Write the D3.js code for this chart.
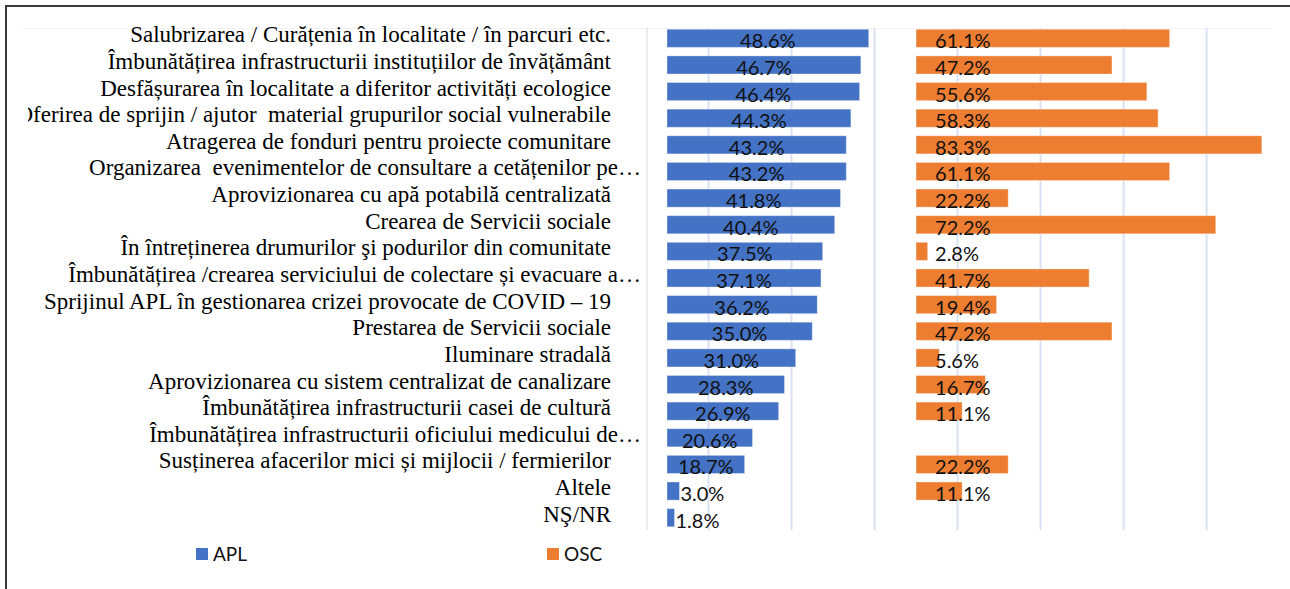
<!DOCTYPE html>
<html lang="ro">
<head>
  <meta charset="utf-8">
  <title>APL / OSC</title>
  <style>
  html, body {padding: 0; margin: 0; overflow: hidden; background: #fff}
  </style>
</head>
<body>
  <svg></svg>
  <script src="https://cdn.jsdelivr.net/npm/d3@7"></script>
  <script>

  var categories = [
    "Salubrizarea / Curățenia în localitate / în parcuri etc.",
    "Îmbunătățirea infrastructurii instituțiilor de învățământ",
    "Desfășurarea în localitate a diferitor activități ecologice",
    "Oferirea de sprijin / ajutor  material grupurilor social vulnerabile",
    "Atragerea de fonduri pentru proiecte comunitare",
    "Organizarea  evenimentelor de consultare a cetățenilor pe…",
    "Aprovizionarea cu apă potabilă centralizată",
    "Crearea de Servicii sociale",
    "În întreținerea drumurilor şi podurilor din comunitate",
    "Îmbunătățirea /crearea serviciului de colectare și evacuare a…",
    "Sprijinul APL în gestionarea crizei provocate de COVID – 19",
    "Prestarea de Servicii sociale",
    "Iluminare stradală",
    "Aprovizionarea cu sistem centralizat de canalizare",
    "Îmbunătățirea infrastructurii casei de cultură",
    "Îmbunătățirea infrastructurii oficiului medicului de…",
    "Susținerea afacerilor mici și mijlocii / fermierilor",
    "Altele",
    "NŞ/NR"
  ];

  var apl = [48.6, 46.7, 46.4, 44.3, 43.2, 43.2, 41.8, 40.4, 37.5, 37.1, 36.2, 35.0, 31.0, 28.3, 26.9, 20.6, 18.7, 3.0, 1.8];
  var osc = [61.1, 47.2, 55.6, 58.3, 83.3, 61.1, 22.2, 72.2, 2.8, 41.7, 19.4, 47.2, 5.6, 16.7, 11.1, null, 22.2, 11.1, null];

  var seriesNames = ["APL", "OSC"];
  var seriesColors = ["#4472c4", "#ed7d31"];

  // the two panels share one axis, OSC is shifted right by 60 points
  var panelOffset = [0, 60];
  var gridTicks = [10, 30, 50, 70, 90, 110, 130];

  var width = 1290, height = 589;

  var svg = d3.select("svg")
      .attr("width", width)
      .attr("height", height);

  // outer frame (left and top edges only are visible)
  svg.append("path")
      .attr("d", "M6,589V6H1290")
      .attr("fill", "none")
      .attr("stroke", "#3a3a3a")
      .attr("stroke-width", 2);

  var x = d3.scaleLinear()
      .domain([0, 146])
      .range([667, 1273]);

  var y = d3.scaleBand()
      .domain(categories)
      .range([25, 531])
      .paddingInner(0.32)
      .paddingOuter(0.16);

  // plot area top edge
  svg.append("line")
      .attr("x1", 22).attr("x2", x.range()[1])
      .attr("y1", 28.5).attr("y2", 28.5)
      .attr("stroke", "#f4f4f4");

  // gridlines
  svg.append("g")
    .selectAll("line")
    .data(gridTicks)
    .join("line")
      .attr("x1", d => x(d)).attr("x2", d => x(d))
      .attr("y1", 28).attr("y2", 530)
      .attr("stroke", "#d9e1f2")
      .attr("stroke-width", 2);

  // category axis line
  svg.append("line")
      .attr("x1", 647).attr("x2", 647)
      .attr("y1", 28).attr("y2", 530)
      .attr("stroke", "#d9d9d9")
      .attr("stroke-width", 1);

  // category labels
  svg.append("clipPath")
      .attr("id", "labelclip")
    .append("rect")
      .attr("x", 28).attr("y", 0)
      .attr("width", 640).attr("height", height);

  svg.append("g")
      .attr("clip-path", "url(#labelclip)")
    .selectAll("text")
    .data(categories)
    .join("text")
      .attr("x", 611)
      .attr("dx", d => d.endsWith("…") ? 30 : 0)
      .attr("y", d => y(d) + y.bandwidth() / 2 + 4)
      .attr("text-anchor", "end")
      .style("font-family", "'Liberation Serif', 'Times New Roman', serif")
      .style("font-size", "23px")
      .style("white-space", "pre")
      .attr("fill", "#000")
      .text(d => d);

  var series = [apl, osc];

  series.forEach(function(values, s) {
    var rows = values.map((v, i) => ({cat: categories[i], value: v}))
        .filter(d => d.value != null);
    var x0 = x(panelOffset[s]);

    svg.append("g")
      .selectAll("rect")
      .data(rows)
      .join("rect")
        .attr("x", x0)
        .attr("y", d => y(d.cat))
        .attr("width", d => x(panelOffset[s] + d.value) - x0)
        .attr("height", y.bandwidth())
        .attr("fill", seriesColors[s])
        .attr("stroke", "rgba(255,255,255,0.35)")
        .attr("stroke-width", 1);

    svg.append("g")
      .selectAll("text")
      .data(rows)
      .join("text")
        .attr("x", function(d) {
          if (s === 1) return x0 + 19;
          var w = x(d.value) - x0;
          return w < 30 ? x0 + w + 1 : x0 + w / 2;
        })
        .attr("text-anchor", d => (s === 0 && x(d.value) - x0 >= 30) ? "middle" : "start")
        .attr("y", d => y(d.cat) + y.bandwidth() / 2 + 10)
        .style("font-family", "Lato, 'Open Sans', sans-serif")
        .style("font-size", "20px")
        .attr("fill", "#111")
        .text(d => d.value.toFixed(1) + "%");
  });

  // legend
  var legendX = [196, 547];
  var legend = svg.append("g")
    .selectAll("g")
    .data(seriesNames)
    .join("g")
      .attr("transform", (d, i) => "translate(" + legendX[i] + ",548)");

  legend.append("rect")
      .attr("width", 12).attr("height", 12)
      .attr("fill", (d, i) => seriesColors[i]);

  legend.append("text")
      .attr("x", 17)
      .attr("y", 13)
      .style("font-family", "Lato, 'Open Sans', sans-serif")
      .style("font-size", "19px")
      .attr("fill", "#111")
      .text(d => d);

  </script>
</body>
</html>
